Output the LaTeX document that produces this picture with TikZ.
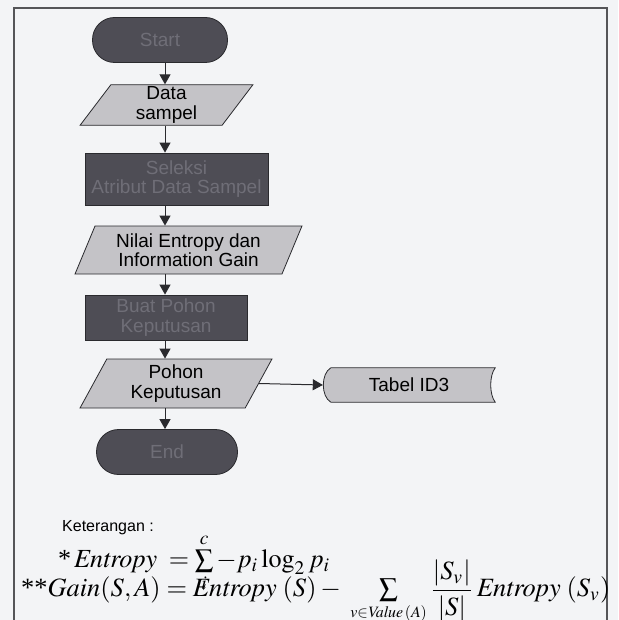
\documentclass[tikz,border=0pt]{standalone}
\usepackage{mathptmx}
\usepackage[no-math]{fontspec}
\newfontfamily\flowfont{Liberation Sans}
\newfontfamily\tnr{Liberation Serif}
\usetikzlibrary{shapes.geometric,arrows.meta,calc,backgrounds}

\definecolor{paper}{HTML}{F3F4F6}
\definecolor{lightfill}{HTML}{C4C3C7}
\definecolor{darkfill}{HTML}{4E4D55}
\definecolor{darktext}{HTML}{6F6E77}
\definecolor{edge}{HTML}{2A2A2E}

\tikzset{
  boxtext/.style={font=\flowfont\fontsize{19}{19.5}\selectfont, align=center, inner sep=2pt},
  term/.style={boxtext, rectangle, rounded corners=22pt, fill=darkfill, draw=edge, line width=0.8pt, text=darktext},
  proc/.style={boxtext, rectangle, fill=darkfill, draw=edge, line width=0.8pt, text=darktext},
  io/.style={boxtext, trapezium, trapezium stretches=true, fill=lightfill, draw=edge, line width=0.8pt, text=black},
  flow/.style={draw=edge, line width=1pt, -{Triangle[width=11pt,length=10pt]}},
  frame/.style={draw=edge!80, line width=1.1pt},
}

\begin{document}
\begin{tikzpicture}[x=1pt,y=-1pt]
  \useasboundingbox (0,0) rectangle (618,620);
  \begin{scope}[on background layer]
    \fill[paper] (0,0) rectangle (618,620);
  \end{scope}

  % outer frame, open at the bottom
  \draw[frame] (14,620) -- (14,8) -- (607,8) -- (607,620);

  % vertical axis of the main flow
  \coordinate (ax) at (165,0);

  % flowchart
  \node[term, minimum width=135, minimum height=45] (start) at (160,40) {Start};
  \node[io, minimum width=173, minimum height=40,
        trapezium left angle=66, trapezium right angle=114] (data) at (166.5,105) {Data\\sampel};
  \node[proc, minimum width=183, minimum height=52] (seleksi) at (176.5,179) {Seleksi\\Atribut Data Sampel};
  \node[io, minimum width=227, minimum height=48,
        trapezium left angle=67, trapezium right angle=113] (nilai) at (188.5,250) {Nilai Entropy dan\\Information Gain};
  \node[proc, minimum width=162, minimum height=45] (buat) at (166,317.5) {Buat Pohon\\Keputusan};
  \node[io, minimum width=192, minimum height=49,
        trapezium left angle=66, trapezium right angle=114] (pohon) at (176,383.5) {Pohon\\Keputusan};
  \node[term, minimum width=141, minimum height=45] (end) at (167,452) {End};

  % stored-data shape for the ID3 table
  \node[minimum width=172, minimum height=34, inner sep=0pt] (tabel) at (409,385) {};
  \filldraw[fill=lightfill, draw=edge, line width=0.8pt]
    ($(tabel.north west)+(8,0)$)
      .. controls ($(tabel.north west)+(-2,6)$) and ($(tabel.south west)+(-2,-6)$) .. ($(tabel.south west)+(8,0)$)
    -- (tabel.south east)
      .. controls ($(tabel.south east)+(-6,-8)$) and ($(tabel.north east)+(-6,8)$) .. (tabel.north east)
    -- cycle;
  \node[boxtext, text=black] (tabeltext) at (tabel.center) {Tabel ID3};

  % connectors
  \draw[flow] (start.south -| ax) -- (data.north -| ax);
  \draw[flow] (data.south -| ax) -- (seleksi.north -| ax);
  \draw[flow] (seleksi.south -| ax) -- (nilai.north -| ax);
  \draw[flow] (nilai.south -| ax) -- (buat.north -| ax);
  \draw[flow] (buat.south -| ax) -- (pohon.north -| ax);
  \draw[flow] (pohon.south -| ax) -- (end.north -| ax);
  \draw[flow] (pohon.east) -- (tabel.west);

  % legend and formulas
  \node[anchor=west, font=\flowfont\fontsize{16}{16}\selectfont, inner sep=0pt] (legend) at (62,528) {Keterangan :};
  \node[anchor=west, inner sep=0pt] (eqentropy) at (58,563)
    {\resizebox{272pt}{!}{$\mbox{\tnr *}\,\mathit{Entropy}\;=\sum\limits_{i}^{c}-p_i\log_2 p_i$}};
  \node[anchor=west, inner sep=0pt] (eqgain) at (21,592)
    {\resizebox{589pt}{!}{$\textstyle \mbox{\tnr **}\mathit{Gain}(S,A) = \mathit{Entropy}\;(S) - \;\sum\limits_{\scriptscriptstyle v\in \mathit{Value}\,(A)} {\displaystyle\frac{|S_v|}{|S|}}\,\mathit{Entropy}\;(S_v)$}};
\end{tikzpicture}
\end{document}
